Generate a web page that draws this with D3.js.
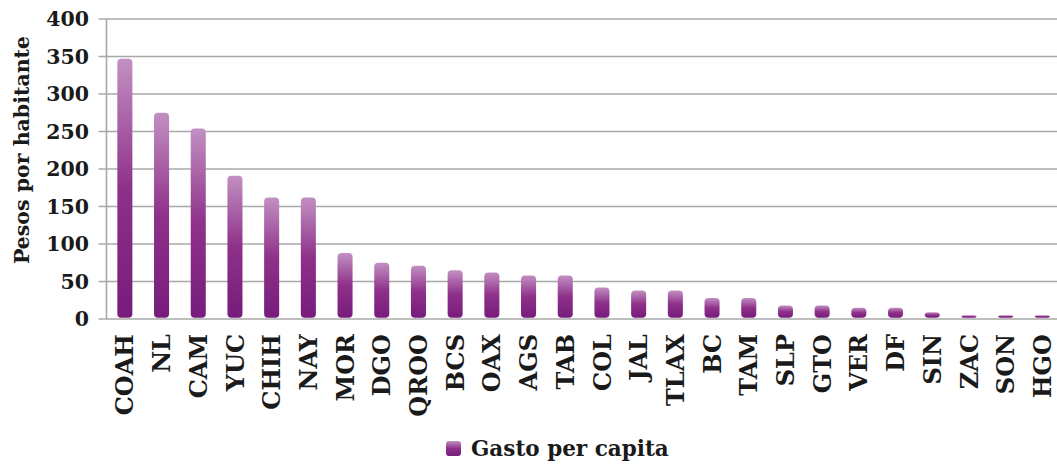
<!DOCTYPE html>
<html><head><meta charset="utf-8">
<script src="https://cdn.jsdelivr.net/npm/d3@7"></script>
<style>
html,body{margin:0;padding:0;background:#fff;}
svg{display:block;font-family:"DejaVu Serif",serif;font-weight:bold;}
</style></head>
<body><svg id="c" width="1057" height="464"></svg>
<script>
const categories = ["COAH","NL","CAM","YUC","CHIH","NAY","MOR","DGO","QROO","BCS","OAX","AGS","TAB","COL","JAL","TLAX","BC","TAM","SLP","GTO","VER","DF","SIN","ZAC","SON","HGO"];
const gastoPerCapita = [347,275,254,191,162,162,88,75,71,65,62,58,58,42,38,38,28,28,18,18,15,15,9,5,5,5];
const yTicks = [0,50,100,150,200,250,300,350,400];
const seriesName = "Gasto per capita";
const yTitle = "Pesos por habitante";

const svg = d3.select("#c");
const left = 106.5, bandW = 36.7;
const x = d3.scaleBand().domain(categories).range([left, left + bandW*categories.length]).paddingInner(0.59).paddingOuter(0.295);
const y = d3.scaleLinear().domain([0,400]).range([319,19]);

const defs = svg.append("defs");
const g = defs.append("linearGradient").attr("id","bg").attr("x1",0).attr("y1",0).attr("x2",0).attr("y2",1);
g.append("stop").attr("offset","0%").attr("stop-color","#c290c2");
g.append("stop").attr("offset","50%").attr("stop-color","#8f318a");
g.append("stop").attr("offset","100%").attr("stop-color","#771c7c");

svg.append("g").selectAll("line").data(yTicks).join("line")
  .attr("x1", left-8).attr("x2", 1057)
  .attr("y1", d=>y(d)).attr("y2", d=>y(d))
  .attr("stroke","#a8a8a8").attr("stroke-width",1.6);
svg.append("line").attr("x1",left).attr("x2",left).attr("y1",y(400)).attr("y2",y(0))
  .attr("stroke","#a8a8a8").attr("stroke-width",1.6);

svg.append("g").selectAll("text").data(yTicks).join("text")
  .attr("x", 89).attr("y", d=>y(d)).attr("dy","0.36em")
  .attr("text-anchor","end").attr("font-size",20.5).attr("fill","#1a1a1a")
  .text(d=>d);

svg.append("text").attr("transform","translate(29,150) rotate(-90)")
  .attr("text-anchor","middle").attr("font-size",20.5).attr("fill","#1a1a1a").text(yTitle);

svg.append("g").selectAll("rect").data(categories).join("rect")
  .attr("x", d=>x(d)).attr("width", x.bandwidth())
  .attr("y", (d,i)=>y(gastoPerCapita[i]))
  .attr("height", (d,i)=>Math.max(0, y(0)-1.3-y(gastoPerCapita[i])))
  .attr("rx", 4).attr("ry", (d,i)=>Math.min(4,(y(0)-1.3-y(gastoPerCapita[i]))/2))
  .attr("fill","url(#bg)");

svg.append("g").selectAll("text").data(categories).join("text")
  .attr("transform", d=>`translate(${x(d)+x.bandwidth()/2},334) rotate(-90)`)
  .attr("dy","0.36em").attr("text-anchor","end")
  .attr("font-size",24).attr("fill","#1a1a1a").text(d=>d);

svg.append("rect").attr("x",446).attr("y",441).attr("width",15).attr("height",15)
  .attr("rx",3).attr("fill","url(#bg)");
svg.append("text").attr("x",471).attr("y",456).attr("font-size",21.5).attr("fill","#1a1a1a").text(seriesName);
</script></body></html>
